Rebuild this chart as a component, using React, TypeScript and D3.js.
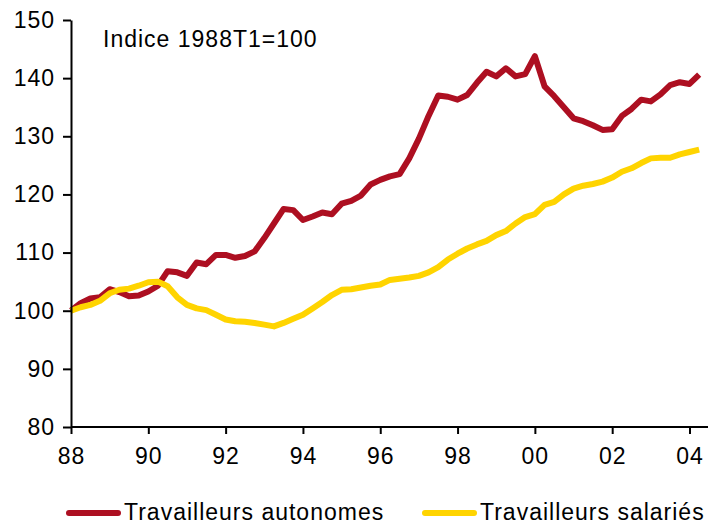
import React, { useEffect, useRef } from "react";
import * as d3 from "d3";

// quarterly index, 1988T1 = 100
const startYear = 1988;
const autonomes = [
  100, 101.3, 102.1, 102.3, 103.7, 103.2, 102.5, 102.6, 103.3, 104.3,
  106.8, 106.6, 106, 108.3, 108, 109.6, 109.6, 109.1, 109.4, 110.2,
  112.5, 115, 117.5, 117.3, 115.6, 116.2, 116.9, 116.6, 118.4, 118.9,
  119.8, 121.7, 122.5, 123.1, 123.5, 126.2, 129.6, 133.5, 137, 136.8,
  136.3, 137.1, 139.2, 141.1, 140.3, 141.7, 140.3, 140.7, 143.8, 138.6,
  136.9, 135, 133.1, 132.6, 131.9, 131.1, 131.2, 133.5, 134.7, 136.3,
  136, 137.2, 138.8, 139.3, 139, 140.6,
];
const salaries = [
  100, 100.6, 101, 101.7, 103, 103.6, 103.8, 104.3, 104.9, 105,
  104.2, 102.3, 101, 100.4, 100.1, 99.3, 98.5, 98.2, 98.1, 97.9,
  97.6, 97.3, 97.9, 98.6, 99.3, 100.4, 101.5, 102.7, 103.6, 103.7,
  104, 104.3, 104.5, 105.3, 105.5, 105.7, 106, 106.6, 107.5, 108.8,
  109.8, 110.7, 111.4, 112, 113, 113.7, 115, 116.1, 116.6, 118.2,
  118.7, 120, 121, 121.5, 121.8, 122.2, 122.9, 123.9, 124.5, 125.4,
  126.2, 126.3, 126.3, 126.9, 127.3, 127.7,
];
const yTicks = [80, 90, 100, 110, 120, 130, 140, 150];
const xTicks = [1988, 1990, 1992, 1994, 1996, 1998, 2000, 2002, 2004];
const seriesNames = ["Travailleurs autonomes", "Travailleurs salariés"];
const colors = ["#ad0f21", "#ffd400"];

const W = 708;
const H = 525;
const FONT = "'Liberation Sans', Arial, sans-serif";

export default function App() {
  const ref = useRef<SVGSVGElement>(null);

  useEffect(() => {
    const svg = d3.select(ref.current);
    svg.selectAll("*").remove();

    const x = d3.scaleLinear().domain([1988, 2004]).range([71, 689.5]);
    const y = d3.scaleLinear().domain([80, 150]).range([427, 20]);

    const line = d3
      .line<number>()
      .x((d, i) => x(startYear + i / 4))
      .y((d) => y(d));

    // lines: salariés drawn on top, as in the original
    [autonomes, salaries].forEach((s, k) => {
      svg
        .append("path")
        .datum(s)
        .attr("d", line)
        .attr("fill", "none")
        .attr("stroke", colors[k])
        .attr("stroke-width", 6)
        .attr("stroke-linejoin", "round");
    });

    // y axis
    const yAxis = svg.append("g").attr("transform", "translate(71,0)")
      .call(d3.axisLeft(y).tickValues(yTicks).tickSize(8).tickSizeOuter(0).tickPadding(8));
    yAxis.select(".domain").attr("stroke", "#000").attr("stroke-width", 2);
    yAxis.selectAll("line").attr("stroke", "#000").attr("stroke-width", 2);
    yAxis.selectAll("text")
      .attr("font-family", FONT).attr("font-size", 23).attr("letter-spacing", 1)
      .attr("fill", "#000");

    // x axis
    const xAxis = svg.append("g").attr("transform", "translate(0,427)")
      .call(d3.axisBottom(x).tickValues(xTicks).tickSize(7).tickSizeOuter(0).tickPadding(14)
        .tickFormat((d) => d3.format("02")(+d % 100)));
    xAxis.select(".domain").attr("d", `M${x(1988)},0H${W}`).attr("stroke", "#000").attr("stroke-width", 2);
    xAxis.selectAll("line").attr("stroke", "#000").attr("stroke-width", 2);
    xAxis.selectAll("text")
      .attr("font-family", FONT).attr("font-size", 23).attr("letter-spacing", 1)
      .attr("fill", "#000");

    svg.append("text")
      .attr("x", 103).attr("y", 47)
      .attr("font-family", FONT).attr("font-size", 23).attr("letter-spacing", 1)
      .text("Indice 1988T1=100");

    // legend
    const legX = [67, 423];
    seriesNames.forEach((name, k) => {
      const g = svg.append("g").attr("transform", `translate(${legX[k]},513)`);
      g.append("line").attr("x1", 2).attr("x2", 51).attr("y1", 0).attr("y2", 0)
        .attr("stroke", colors[k]).attr("stroke-width", 6).attr("stroke-linecap", "round");
      g.append("text").attr("x", 57).attr("y", 7)
        .attr("font-family", FONT).attr("font-size", 23).attr("letter-spacing", 1)
        .text(name);
    });
  }, []);

  return (
    <svg ref={ref} width={W} height={H} style={{ position: "absolute", left: 0, top: 0, background: "#fff" }} />
  );
}
